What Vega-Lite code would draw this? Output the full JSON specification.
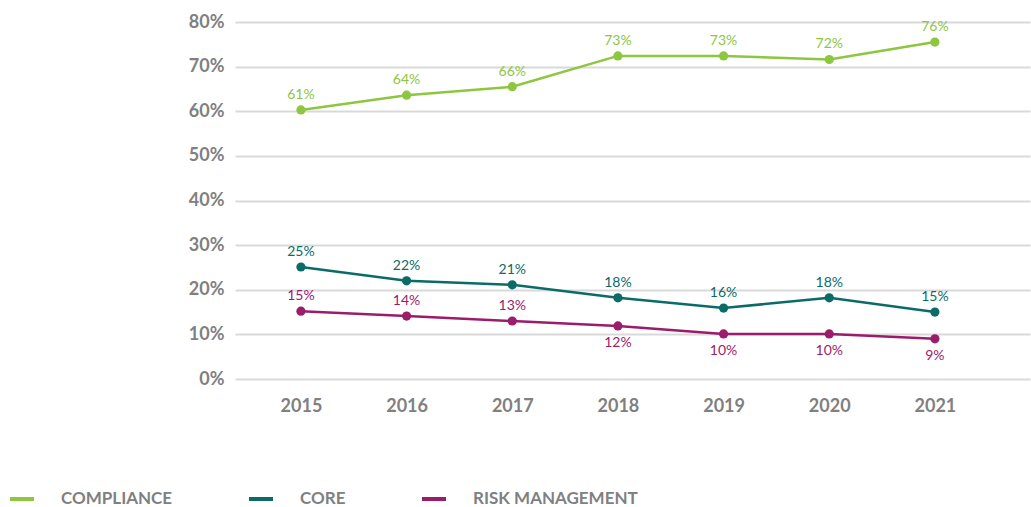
{
  "$schema": "https://vega.github.io/schema/vega-lite/v6.json",
  "width": 795,
  "height": 357,
  "autosize": "none",
  "padding": {"left": 235, "top": 22, "right": 1, "bottom": 128},
  "background": "white",
  "config": {
    "view": {"stroke": null},
    "font": "Lato"
  },
  "data": {
    "values": [
      {"series": "COMPLIANCE", "year": 2015, "value": 0.603, "label": "61%"},
      {"series": "COMPLIANCE", "year": 2016, "value": 0.636, "label": "64%"},
      {"series": "COMPLIANCE", "year": 2017, "value": 0.655, "label": "66%"},
      {"series": "COMPLIANCE", "year": 2018, "value": 0.724, "label": "73%"},
      {"series": "COMPLIANCE", "year": 2019, "value": 0.724, "label": "73%"},
      {"series": "COMPLIANCE", "year": 2020, "value": 0.716, "label": "72%"},
      {"series": "COMPLIANCE", "year": 2021, "value": 0.755, "label": "76%"},
      {"series": "CORE", "year": 2015, "value": 0.251, "label": "25%"},
      {"series": "CORE", "year": 2016, "value": 0.220, "label": "22%"},
      {"series": "CORE", "year": 2017, "value": 0.211, "label": "21%"},
      {"series": "CORE", "year": 2018, "value": 0.182, "label": "18%"},
      {"series": "CORE", "year": 2019, "value": 0.159, "label": "16%"},
      {"series": "CORE", "year": 2020, "value": 0.182, "label": "18%"},
      {"series": "CORE", "year": 2021, "value": 0.150, "label": "15%"},
      {"series": "RISK MANAGEMENT", "year": 2015, "value": 0.152, "label": "15%"},
      {"series": "RISK MANAGEMENT", "year": 2016, "value": 0.141, "label": "14%"},
      {"series": "RISK MANAGEMENT", "year": 2017, "value": 0.130, "label": "13%"},
      {"series": "RISK MANAGEMENT", "year": 2018, "value": 0.119, "label": "12%"},
      {"series": "RISK MANAGEMENT", "year": 2019, "value": 0.101, "label": "10%"},
      {"series": "RISK MANAGEMENT", "year": 2020, "value": 0.101, "label": "10%"},
      {"series": "RISK MANAGEMENT", "year": 2021, "value": 0.090, "label": "9%"}
    ]
  },
  "encoding": {
    "x": {
      "field": "year",
      "type": "quantitative",
      "scale": {"domain": [2014.376, 2021.9], "zero": false, "nice": false},
      "axis": {
        "title": null,
        "values": [2015, 2016, 2017, 2018, 2019, 2020, 2021],
        "format": "d",
        "grid": false,
        "domain": false,
        "ticks": false,
        "labelFont": "Lato",
        "labelFontWeight": "bold",
        "labelFontSize": 18,
        "labelColor": "#808080",
        "labelPadding": 18
      }
    },
    "y": {
      "field": "value",
      "type": "quantitative",
      "scale": {"domain": [0, 0.8], "nice": false},
      "axis": {
        "title": null,
        "values": [0, 0.1, 0.2, 0.3, 0.4, 0.5, 0.6, 0.7, 0.8],
        "format": ".0%",
        "domain": false,
        "ticks": false,
        "gridColor": "#d9d9d9",
        "gridWidth": 2,
        "labelFont": "Lato",
        "labelFontWeight": "bold",
        "labelFontSize": 18,
        "labelColor": "#808080",
        "labelPadding": 11
      }
    },
    "color": {
      "field": "series",
      "type": "nominal",
      "scale": {
        "domain": ["COMPLIANCE", "CORE", "RISK MANAGEMENT"],
        "range": ["#8DC63F", "#0B6B67", "#9B1C6B"]
      },
      "legend": {
        "title": null,
        "orient": "none",
        "direction": "horizontal",
        "legendX": -227,
        "legendY": 463,
        "symbolType": "stroke",
        "symbolSize": 576,
        "symbolStrokeWidth": 4,
        "labelOffset": 25,
        "columnPadding": 68,
        "labelFont": "Lato",
        "labelFontWeight": "bold",
        "labelFontSize": 17,
        "labelColor": "#808080",
        "labelLimit": 400
      }
    }
  },
  "layer": [
    {"mark": {"type": "line", "strokeWidth": 2.5}},
    {"mark": {"type": "point", "filled": true, "size": 85, "opacity": 1}},
    {
      "transform": [{"filter": "datum.series != 'RISK MANAGEMENT' || datum.year < 2018"}],
      "mark": {"type": "text", "dy": -15, "fontSize": 14, "font": "Lato"},
      "encoding": {"text": {"field": "label"}}
    },
    {
      "transform": [{"filter": "datum.series == 'RISK MANAGEMENT' && datum.year >= 2018"}],
      "mark": {"type": "text", "dy": 17, "fontSize": 14, "font": "Lato"},
      "encoding": {"text": {"field": "label"}}
    }
  ]
}
